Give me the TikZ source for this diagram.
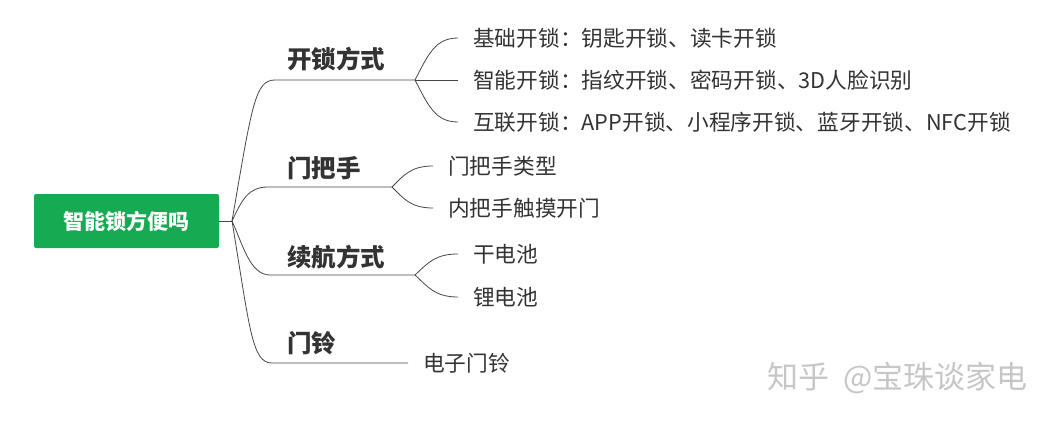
\documentclass[tikz,border=0pt]{standalone}
\usepackage{fontspec}
\setmainfont{Noto Sans CJK SC}
\usepackage{tikz}

\definecolor{lockgreen}{RGB}{22,170,82}
\definecolor{inkgray}{RGB}{51,51,51}
\definecolor{linegray}{RGB}{70,70,70}

\begin{document}
\begin{tikzpicture}[x=1pt, y=-1pt,
                    root node/.style={fill=lockgreen,rounded corners=2pt,text=white,
                      font=\bfseries\fontsize{21}{21}\selectfont,minimum width=185pt,minimum height=54pt},
                    branch node/.style={anchor=west,inner sep=0pt,text=inkgray,
                      font=\bfseries\fontsize{24.5}{25}\selectfont},
                    leaf node/.style={anchor=west,inner xsep=15pt,inner ysep=0pt,text=inkgray,
                      font=\fontsize{21.7}{22}\selectfont},
                    link/.style={draw=linegray,line width=0.8pt}]

  \useasboundingbox (0,0) rectangle (1056,422);

  \node[root node] (root) at (126.5,221) {智能锁方便吗};
  \coordinate (hub) at (232,221);

  % branches
  \node[branch node] (b1) at (287,59) {开锁方式};
  \node[branch node] (b2) at (287,168) {门把手};
  \node[branch node] (b3) at (287,257) {续航方式};
  \node[branch node] (b4) at (287,343) {门铃};

  \coordinate (f1) at (415,80);
  \coordinate (f2) at (392,187);
  \coordinate (f3) at (415,275);

  % leaves
  \node[leaf node] (l11) at (458,38) {基础开锁：钥匙开锁、读卡开锁};
  \node[leaf node] (l12) at (458,80) {智能开锁：指纹开锁、密码开锁、3D人脸识别};
  \node[leaf node] (l13) at (458,122) {互联开锁：APP开锁、小程序开锁、蓝牙开锁、NFC开锁};
  \node[leaf node] (l21) at (433,166) {门把手类型};
  \node[leaf node] (l22) at (433,208) {内把手触摸开门};
  \node[leaf node] (l31) at (458,254) {干电池};
  \node[leaf node] (l32) at (458,297) {锂电池};
  \node[leaf node] (l41) at (408,363) {电子门铃};

  \node[anchor=west,text=gray!45,font=\fontsize{31}{31}\selectfont] (mark) at (764,378)
    {知乎\hspace{14pt}@宝珠谈家电};

  % connectors
  \draw[link] (root) -- (hub);
  \draw[link] (hub) .. controls (252,105) and (255,80) .. (275,80) -- (f1);
  \draw[link] (hub) .. controls (242,200) and (248,187) .. (268,187) -- (f2);
  \draw[link] (hub) .. controls (243,245) and (250,275) .. (270,275) -- (f3);
  \draw[link] (hub) .. controls (250,330) and (252,363) .. (272,363) -- (l41.west);

  \draw[link] (f1) .. controls +(13,-25) and +(-23,0) .. (l11.west);
  \draw[link] (f1) -- (l12.west);
  \draw[link] (f1) .. controls +(13,25) and +(-23,0) .. (l13.west);

  \draw[link] (f2) .. controls +(12,-12) and +(-22,0) .. (l21.west);
  \draw[link] (f2) .. controls +(12,12) and +(-22,0) .. (l22.west);

  \draw[link] (f3) .. controls +(13,-12) and +(-23,0) .. (l31.west);
  \draw[link] (f3) .. controls +(13,12) and +(-23,0) .. (l32.west);
\end{tikzpicture}
\end{document}
